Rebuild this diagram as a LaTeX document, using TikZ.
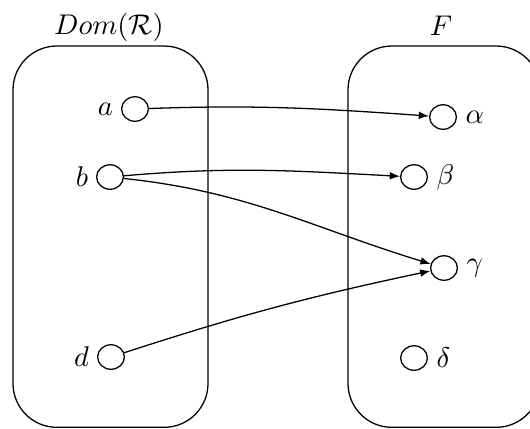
\documentclass[tikz,border=0pt]{standalone}
\usetikzlibrary{arrows.meta,positioning,shapes.geometric}
\begin{document}
\begin{tikzpicture}[x=0.351pt,y=-0.351pt,
  setbox/.style={draw, line width=0.45pt, rounded corners=15.4pt},
  elem/.style={draw, ellipse, line width=0.45pt, minimum width=9.4pt, minimum height=8.6pt, inner sep=0pt},
  tag/.style={inner sep=0pt},
  map/.style={-{Latex[length=3.6pt,width=2.7pt]}, line width=0.45pt}]
\useasboundingbox (0,0) rectangle (530,428);
\clip (0,0) rectangle (530,428);

% the two sets
\draw[setbox] (13,46) rectangle (208,427.3);
\draw[setbox] (348,46) rectangle (540,427.3);
\node[anchor=base] (tdom) at (109,34) {$Dom(\mathcal{R})$};
\node[anchor=base] (tf) at (441,35) {$F$};

% elements of the domain
\node[elem] (a) at (135,109) {};
\node[elem] (b) at (110,177) {};
\node[elem] (d) at (111,357) {};
\node[tag, left=2.6pt of a] (la) {$a$};
\node[tag, left=2.6pt of b] (lb) {$b$};
\node[tag, left=2.6pt of d] (ld) {$d$};

% elements of F
\node[elem] (al) at (443,117) {};
\node[elem] (be) at (414,177) {};
\node[elem] (ga) at (444,268) {};
\node[elem] (de) at (414,358) {};
\node[tag, right=2.8pt of al] (lal) {$\alpha$};
\node[tag, right=2.8pt of be] (lbe) {$\beta$};
\node[tag, right=2.8pt of ga] (lga) {$\gamma$};
\node[tag, right=2.8pt of de] (lde) {$\delta$};

% the mapping
\draw[map] (a) to[out=2,in=176] (al);
\draw[map] (b) to[out=5,in=177] (be);
\draw[map] (b) to[out=-6,in=163] (ga);
\draw[map] (d) to[out=18,in=192] (ga);
\end{tikzpicture}
\end{document}
